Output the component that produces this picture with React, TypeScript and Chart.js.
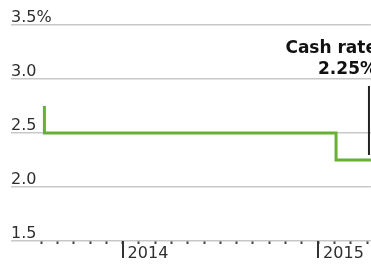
import React, { useEffect, useRef } from "react";
import { Chart, registerables } from "chart.js";

Chart.register(...registerables);

// months counted from January 2014 (0 = Jan 2014, 12 = Jan 2015)
const rateMonths = [-4.8, -4.8, 13.1, 13.1, 15.24];
const rateValues = [2.75, 2.5, 2.5, 2.25, 2.25];
const xRange = [-6.85, 15.24];
const monthTicks = [-5, -4, -3, -2, -1, 0, 1, 2, 3, 4, 5, 6, 7, 8, 9, 10, 11, 12, 13, 14, 15];
const yearTicks = [0, 12];
const yearLabels = ["2014", "2015"];
const yTicks = [1.5, 2.0, 2.5, 3.0, 3.5];
const annotationMonth = 15.12;
const annotationTitle = "Cash rate";
const annotationValue = 2.25;

const GREEN = "#66b032";
const TEXT = "#2e2e2e";

const annotationPlugin = {
  id: "cashAnnotation",
  afterDraw(chart: any) {
    const { ctx } = chart;
    const xs = chart.scales.x;
    const ys = chart.scales.y;
    ctx.save();
    // year major ticks
    ctx.strokeStyle = "#333333";
    ctx.lineWidth = 2;
    yearTicks.forEach((m) => {
      const px = Math.round(xs.getPixelForValue(m));
      ctx.beginPath();
      ctx.moveTo(px, xs.top);
      ctx.lineTo(px, xs.top + 17);
      ctx.stroke();
    });
    // annotation line
    const ax = xs.getPixelForValue(annotationMonth);
    ctx.strokeStyle = "#222222";
    ctx.lineWidth = 2;
    ctx.beginPath();
    ctx.moveTo(ax, 86);
    ctx.lineTo(ax, ys.getPixelForValue(annotationValue) - 5);
    ctx.stroke();
    // annotation text
    ctx.fillStyle = "#111111";
    ctx.font = "bold 17px 'DejaVu Sans'";
    ctx.textAlign = "right";
    ctx.textBaseline = "alphabetic";
    ctx.fillText(annotationTitle, chart.width + 6, 53);
    ctx.fillText(annotationValue.toFixed(2) + "%", chart.width + 6, 74);
    ctx.restore();
  },
};

export default function App() {
  const ref = useRef<HTMLCanvasElement | null>(null);
  useEffect(() => {
    if (!ref.current) return;
    const chart = new Chart(ref.current, {
      type: "line",
      data: {
        datasets: [
          {
            data: rateMonths.map((m, i) => ({ x: m, y: rateValues[i] })),
            borderColor: GREEN,
            borderWidth: 3,
            pointRadius: 0,
            fill: false,
            tension: 0,
            borderJoinStyle: "miter",
            borderCapStyle: "butt",
          },
        ],
      },
      options: {
        animation: false,
        responsive: false,
        layout: { padding: { top: 25, left: 11, right: 0, bottom: 0 } },
        plugins: { legend: { display: false }, tooltip: { enabled: false } },
        scales: {
          x: {
            type: "linear",
            min: xRange[0],
            max: xRange[1],
            afterBuildTicks: (scale: any) => {
              scale.ticks = monthTicks.map((v) => ({ value: v }));
            },
            border: { display: false },
            grid: {
              drawOnChartArea: false,
              drawTicks: true,
              tickLength: 3,
              tickWidth: 2,
              tickColor: "#444444",
            },
            ticks: {
              autoSkip: false,
              maxRotation: 0,
              align: "start",
              labelOffset: 5,
              padding: 4,
              color: TEXT,
              font: { family: "'DejaVu Sans'", size: 16, lineHeight: 0.75 },
              callback: (v: any) => {
                const i = yearTicks.indexOf(Number(v));
                return i >= 0 ? yearLabels[i] : "";
              },
            },
          },
          y: {
            type: "linear",
            min: yTicks[0],
            max: yTicks[yTicks.length - 1],
            afterBuildTicks: (scale: any) => {
              scale.ticks = yTicks.map((v) => ({ value: v }));
            },
            border: { display: false },
            grid: {
              drawTicks: false,
              color: "#c8c8c8",
              lineWidth: 1.5,
            },
            ticks: {
              mirror: true,
              padding: 0,
              labelOffset: -7,
              color: TEXT,
              font: { family: "'DejaVu Sans'", size: 16 },
              callback: (v: any) => {
                const n = Number(v);
                return n === yTicks[yTicks.length - 1] ? n.toFixed(1) + "%" : n.toFixed(1);
              },
            },
          },
        },
      },
      plugins: [annotationPlugin],
    });
    return () => chart.destroy();
  }, []);
  return (
    <div style={{ position: "fixed", left: 0, top: 0, width: 371, height: 264, background: "#fff" }}>
      <canvas ref={ref} width={371} height={264} style={{ display: "block" }} />
    </div>
  );
}
